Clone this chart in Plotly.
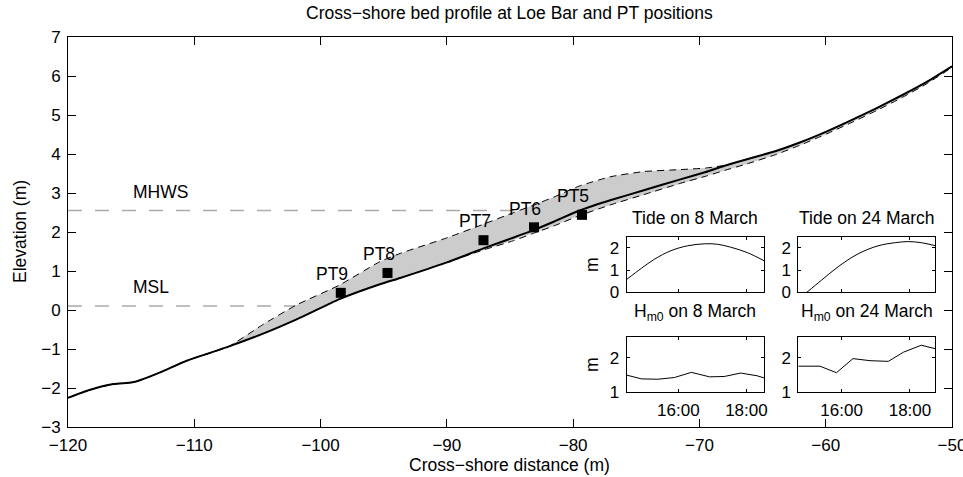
import plotly.graph_objects as go

# ---------------- data ----------------
profile_x = [-120, -118.3, -116.4, -115.0, -114.3, -112.7, -110.6, -107.3, -104.5, -101.9,
             -98.5, -95.3, -93.7, -90.0, -87.1, -84.7, -83.2, -81.5, -79.5, -77.0,
             -74.4, -71.5, -69.5, -68.0, -66.3, -64.0, -62.0, -59.9, -58.0, -56.0,
             -54.0, -52.0, -50.0]
profile_solid = [-2.25, -2.05, -1.90, -1.86, -1.80, -1.60, -1.30, -0.94, -0.60, -0.24,
                 0.28, 0.66, 0.82, 1.22, 1.58, 1.86, 2.04, 2.27, 2.55, 2.82,
                 3.07, 3.35, 3.54, 3.70, 3.86, 4.07, 4.30, 4.58, 4.86, 5.17,
                 5.50, 5.85, 6.25]
profile_upper = [-2.25, -2.05, -1.90, -1.86, -1.80, -1.60, -1.30, -0.94, -0.36, 0.13,
                 0.64, 1.24, 1.45, 1.85, 2.20, 2.50, 2.68, 2.90, 3.18, 3.42,
                 3.55, 3.60, 3.64, 3.71, 3.86, 4.07, 4.30, 4.58, 4.86, 5.17,
                 5.50, 5.85, 6.25]
profile_lower = [-2.25, -2.05, -1.90, -1.86, -1.80, -1.60, -1.30, -0.94, -0.60, -0.24,
                 0.28, 0.66, 0.82, 1.22, 1.54, 1.78, 1.96, 2.16, 2.42, 2.70,
                 2.96, 3.25, 3.43, 3.58, 3.74, 3.98, 4.23, 4.52, 4.80, 5.11,
                 5.44, 5.80, 6.22]

pt_names = ["PT9", "PT8", "PT7", "PT6", "PT5"]
pt_x = [-98.4, -94.7, -87.1, -83.1, -79.3]
pt_z = [0.44, 0.95, 1.79, 2.12, 2.44]

level_names = ["MHWS", "MSL"]
level_z = [2.55, 0.10]
level_end_x = [-79.5, -99.7]

x_ticks = [-120, -110, -100, -90, -80, -70, -60, -50]
y_ticks = [-3, -2, -1, 0, 1, 2, 3, 4, 5, 6, 7]

tide8_t = ["14:29", "14:55", "15:18", "15:47", "16:16", "16:46", "17:09", "17:32", "18:02", "18:31"]
tide8_h = [0.58, 1.08, 1.49, 1.87, 2.09, 2.18, 2.16, 2.03, 1.78, 1.42]
tide24_t = ["14:59", "15:25", "15:54", "16:29", "17:04", "17:34", "17:57", "18:20", "18:44"]
tide24_h = [0.00, 0.55, 1.15, 1.73, 2.09, 2.23, 2.28, 2.23, 2.10]
hm8_t = ["14:29", "14:55", "15:24", "15:53", "16:23", "16:55", "17:21", "17:50", "18:19", "18:31"]
hm8_h = [1.50, 1.39, 1.38, 1.43, 1.58, 1.45, 1.46, 1.56, 1.48, 1.42]
hm24_t = ["14:44", "15:22", "15:51", "16:20", "16:50", "17:22", "17:49", "18:20", "18:44"]
hm24_h = [1.76, 1.76, 1.57, 1.98, 1.92, 1.90, 2.17, 2.37, 2.27]

inset_ticks = ["16:00", "18:00"]
inset_titles = ["Tide on 8 March", "Tide on 24 March",
                "H<sub>m0</sub> on 8 March", "H<sub>m0</sub> on 24 March"]


def hours(lst):
    out = []
    for s in lst:
        h, m = s.split(":")
        out.append(int(h) + int(m) / 60.0)
    return out


# ---------------- layout geometry (pixels) ----------------
W, H = 963, 477
FONT = "Liberation Sans, Arial, Helvetica, sans-serif"
FS = 17      # tick labels
FA = 17.5    # other texts


def xd(a, b):
    return [a / W, b / W]


def yd(top, bottom):
    return [1 - bottom / H, 1 - top / H]


fig = go.Figure()

# reference levels (drawn first, under the fill)
for name, z, xe in zip(level_names, level_z, level_end_x):
    fig.add_trace(go.Scatter(x=[-120, xe], y=[z, z], mode="lines",
                             line=dict(color="#aaaaaa", width=1.5, dash="14px,13px"),
                             xaxis="x", yaxis="y", showlegend=False, hoverinfo="skip"))

# shaded envelope
fig.add_trace(go.Scatter(x=profile_x, y=profile_lower, mode="lines",
                         line=dict(color="rgba(0,0,0,0)", width=0),
                         xaxis="x", yaxis="y", showlegend=False, hoverinfo="skip"))
fig.add_trace(go.Scatter(x=profile_x, y=profile_upper, mode="lines", fill="tonexty",
                         fillcolor="#cccccc", line=dict(color="rgba(0,0,0,0)", width=0),
                         xaxis="x", yaxis="y", showlegend=False, hoverinfo="skip"))
# dashed envelope lines
for arr in (profile_upper, profile_lower):
    fig.add_trace(go.Scatter(x=profile_x, y=arr, mode="lines",
                             line=dict(color="black", width=1, dash="7px,5px", shape="spline",
                                       smoothing=0.5),
                             xaxis="x", yaxis="y", showlegend=False, hoverinfo="skip"))
# solid profile
fig.add_trace(go.Scatter(x=profile_x, y=profile_solid, mode="lines",
                         line=dict(color="black", width=2, shape="spline", smoothing=0.5),
                         xaxis="x", yaxis="y", showlegend=False, hoverinfo="skip"))
# PT markers
fig.add_trace(go.Scatter(x=pt_x, y=pt_z, mode="markers",
                         marker=dict(symbol="square", size=10, color="black"),
                         xaxis="x", yaxis="y", showlegend=False, hoverinfo="skip"))

# insets
insets = [
    ("x2", "y2", tide8_t, tide8_h, "spline"),
    ("x3", "y3", tide24_t, tide24_h, "spline"),
    ("x4", "y4", hm8_t, hm8_h, "linear"),
    ("x5", "y5", hm24_t, hm24_h, "linear"),
]
for xa, ya, t, h, shp in insets:
    fig.add_trace(go.Scatter(x=hours(t), y=h, mode="lines",
                             line=dict(color="black", width=1, shape=shp),
                             xaxis=xa, yaxis=ya, showlegend=False, hoverinfo="skip",
                             cliponaxis=True))

main_left, main_right, main_top, main_bottom = 68, 952, 37, 427
in8 = (626.7, 764)
in24 = (798.3, 935)
tide_tb = (236.7, 292.3)
hm_tb = (337.3, 392.3)

common_axis = dict(showline=True, linecolor="black", linewidth=1, mirror="ticks",
                   ticks="inside", tickcolor="black", showgrid=False, zeroline=False,
                   automargin=False, ticklabeloverflow="allow",
                   tickfont=dict(family=FONT, size=FS, color="black"), fixedrange=True)

tick_vals = hours(inset_ticks)

layout = dict(
    width=W, height=H, margin=dict(l=0, r=0, t=0, b=0, autoexpand=False),
    paper_bgcolor="white", plot_bgcolor="white",
    font=dict(family=FONT, size=FS, color="black"),
    xaxis=dict(common_axis, domain=xd(main_left, main_right), range=[-120, -50],
               tickvals=x_ticks, ticklen=8, anchor="y", ticklabelstandoff=3),
    yaxis=dict(common_axis, domain=yd(main_top, main_bottom), range=[-3, 7],
               tickvals=y_ticks, ticklen=8, anchor="x", ticklabelstandoff=3),
)

ax_defs = [
    ("2", in8, tide_tb, [hours(tide8_t)[0], hours(tide8_t)[-1]], [0, 2.5], [0, 1, 2], False),
    ("3", in24, tide_tb, [hours(hm24_t)[0], hours(hm24_t)[-1]], [0, 2.5], [0, 1, 2], False),
    ("4", in8, hm_tb, [hours(hm8_t)[0], hours(hm8_t)[-1]], [1, 2.6], [1, 2], True),
    ("5", in24, hm_tb, [hours(hm24_t)[0], hours(hm24_t)[-1]], [1, 2.6], [1, 2], True),
]
for n, (xl, xr), (yt, yb), xr_rng, yr_rng, yt_vals, show_x in ax_defs:
    layout["xaxis" + n] = dict(common_axis, domain=xd(xl, xr), range=xr_rng, anchor="y" + n,
                               tickvals=tick_vals, ticktext=inset_ticks, ticklen=3,
                               showticklabels=show_x, ticklabelstandoff=2)
    layout["yaxis" + n] = dict(common_axis, domain=yd(yt, yb), range=yr_rng, anchor="x" + n,
                               tickvals=yt_vals, ticklen=3, ticklabelstandoff=3)

fig.update_layout(**layout)

ann = []
# title & axis titles
ann.append(dict(text="Cross\u2212shore bed profile at Loe Bar and PT positions",
                x=(main_left + main_right) / 2 / W, y=1 - 13 / H, xref="paper", yref="paper",
                showarrow=False, font=dict(size=FA), xanchor="center", yanchor="middle"))
ann.append(dict(text="Cross\u2212shore distance (m)", x=(main_left + main_right) / 2 / W,
                y=1 - 465 / H, xref="paper", yref="paper", showarrow=False,
                font=dict(size=FA), xanchor="center", yanchor="middle"))
ann.append(dict(text="Elevation (m)", x=20 / W, y=1 - 232 / H, xref="paper", yref="paper",
                showarrow=False, textangle=-90, font=dict(size=FA),
                xanchor="center", yanchor="middle"))
# level labels
for name, z in zip(level_names, level_z):
    ann.append(dict(text=name, x=-115, y=z + 0.48, xref="x", yref="y", showarrow=False,
                    xanchor="left", yanchor="middle", font=dict(size=FA)))
# PT labels
for name, px_, pz in zip(pt_names, pt_x, pt_z):
    ann.append(dict(text=name, x=px_ - 0.7, y=pz + 0.48, xref="x", yref="y", showarrow=False,
                    xanchor="center", yanchor="middle", font=dict(size=FA)))
# inset titles
title_pos = [(in8, 218), (in24, 218), (in8, 312), (in24, 312)]
for txt, ((xl, xr), yc) in zip(inset_titles, title_pos):
    ann.append(dict(text=txt, x=(xl + xr) / 2 / W, y=1 - yc / H, xref="paper", yref="paper",
                    showarrow=False, xanchor="center", yanchor="middle", font=dict(size=FA)))
# inset y labels
for yc in (265, 365):
    ann.append(dict(text="m", x=592 / W, y=1 - yc / H, xref="paper", yref="paper",
                    showarrow=False, textangle=-90, xanchor="center", yanchor="middle",
                    font=dict(size=FA)))

fig.update_layout(annotations=ann)
fig.write_html("out.html")
